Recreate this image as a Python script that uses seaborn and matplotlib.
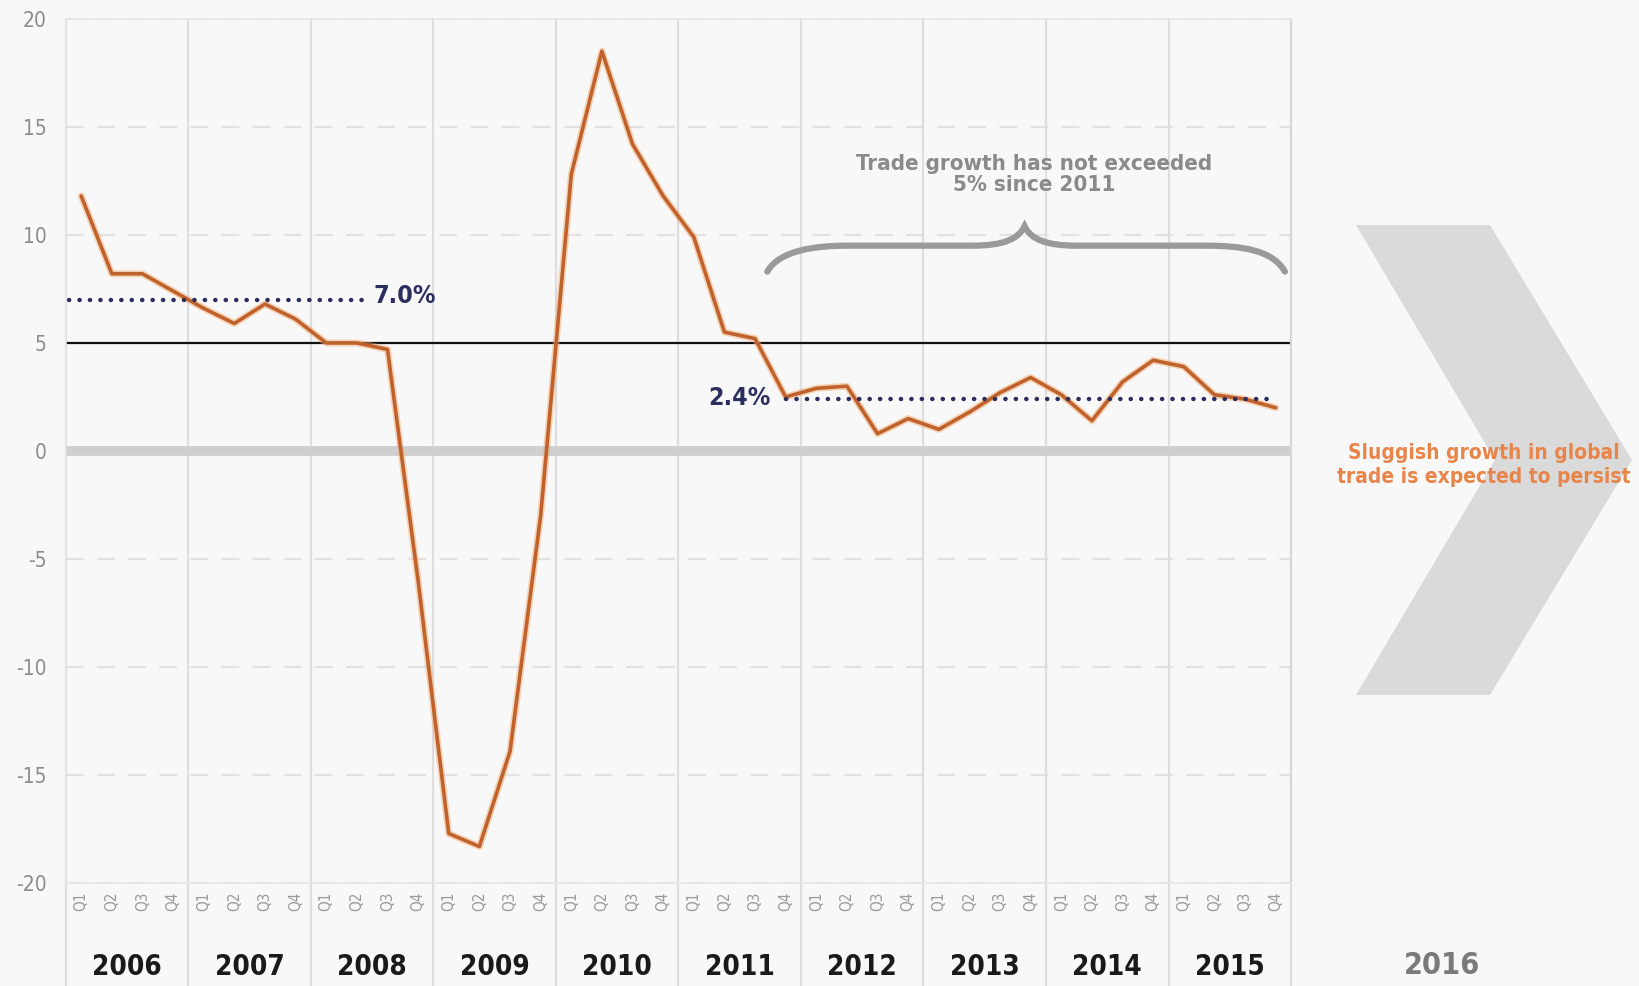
import numpy as np
import pandas as pd
import matplotlib
matplotlib.use("Agg")
import matplotlib.pyplot as plt
import seaborn as sns
from matplotlib.path import Path
from matplotlib.patches import PathPatch, Polygon
import matplotlib.transforms as mtransforms

# ---------------- data ----------------
years = ["2006", "2007", "2008", "2009", "2010", "2011", "2012", "2013", "2014", "2015"]
quarters = ["Q1", "Q2", "Q3", "Q4"]
growth = [
    11.8, 8.2, 8.2, 7.4,      # 2006
    6.6, 5.9, 6.8, 6.1,       # 2007
    5.0, 5.0, 4.7, -6.0,      # 2008
    -17.7, -18.3, -13.9, -3.0,  # 2009
    12.8, 18.5, 14.2, 11.8,   # 2010
    9.9, 5.5, 5.2, 2.5,       # 2011
    2.9, 3.0, 0.8, 1.5,       # 2012
    1.0, 1.8, 2.7, 3.4,       # 2013
    2.6, 1.4, 3.2, 4.2,       # 2014
    3.9, 2.6, 2.4, 2.0,       # 2015
]
avg_pre = 7.0
avg_post = 2.4
threshold = 5
avg_pre_label = "7.0%"
avg_post_label = "2.4%"
brace_text = "Trade growth has not exceeded\n5% since 2011"
outlook_text = "Sluggish growth in global\ntrade is expected to persist"
next_year = "2016"
yticks = [20, 15, 10, 5, 0, -5, -10, -15, -20]

# ---------------- style ----------------
sns.set_theme(style="white")
plt.rcParams["font.family"] = ["DejaVu Sans"]
plt.rcParams["font.stretch"] = "condensed"

BG = "#f8f8f8"
LINE = "#c0622c"
NAVY = "#2b2e5e"
GRAY_TXT = "#8a8a8a"
ORANGE = "#e8854a"

fig = plt.figure(figsize=(16.39, 9.86), dpi=100, facecolor=BG)
ax = fig.add_axes([0.0402, 0.1042, 0.7475, 0.8768])
ax.set_facecolor(BG)

n = len(growth)
df = pd.DataFrame({"x": np.arange(n) + 0.5, "growth": growth})

ax.set_xlim(0, n)
ax.set_ylim(-20, 20)

# horizontal dashed grid
for v in yticks:
    if v in (0, threshold):
        continue
    ax.axhline(v, color="#e2e2e2", lw=1.6, ls=(0, (8, 6)), zorder=0)

# year separators (extend below axis)
for k in range(len(years) + 1):
    ax.axvline(4 * k, ymin=-0.12, ymax=1, color="#dedede", lw=1.6,
               clip_on=False, zorder=0)

# zero band and 5% line
ax.axhline(0, color="#cfcfcf", lw=7, zorder=1)
ax.axhline(threshold, color="#111111", lw=1.6, zorder=2)

# main series
sns.lineplot(data=df, x="x", y="growth", ax=ax, color="#f2a66a", lw=5,
             alpha=0.45, zorder=3, legend=False)
sns.lineplot(data=df, x="x", y="growth", ax=ax, color=LINE, lw=2.6,
             zorder=4, legend=False)

# averages
dot_kw = dict(color=NAVY, lw=3.2, ls=(0, (0.05, 2.3)),
              dash_capstyle="round", zorder=5)
ax.plot([0.1, 9.75], [avg_pre, avg_pre], **dot_kw)
ax.plot([23.5, 39.5], [avg_post, avg_post], **dot_kw)
ax.text(10.05, avg_pre + 0.15, avg_pre_label, color=NAVY, fontsize=18,
        fontweight="bold", ha="left", va="center", zorder=6)
ax.text(23.0, avg_post + 0.05, avg_post_label, color=NAVY, fontsize=18,
        fontweight="bold", ha="right", va="center", zorder=6)

# brace
x0, x1, xp = 22.9, 39.8, 31.3
yl, yf, yp = 8.3, 9.5, 10.4
verts = [
    (x0, yl), (x0 + 0.4, 9.3), (x0 + 1.6, yf), (25.5, yf),
    (29.6, yf),
    (30.6, yf), (31.1, 9.8), (xp, yp),
    (31.5, 9.8), (32.0, yf), (33.0, yf),
    (37.2, yf),
    (38.4, yf), (39.4, 9.3), (x1, yl),
]
codes = [Path.MOVETO, Path.CURVE4, Path.CURVE4, Path.CURVE4,
         Path.LINETO,
         Path.CURVE4, Path.CURVE4, Path.CURVE4,
         Path.CURVE4, Path.CURVE4, Path.CURVE4,
         Path.LINETO,
         Path.CURVE4, Path.CURVE4, Path.CURVE4]
ax.add_patch(PathPatch(Path(verts, codes), facecolor="none",
                       edgecolor="#9a9a9a", lw=4.5, capstyle="round", zorder=5))
ax.text(31.6, 12.8, brace_text, color=GRAY_TXT, fontsize=16,
        fontweight="bold", ha="center", va="center", linespacing=1.1)

# ticks
ax.set_yticks(yticks)
ax.set_yticklabels([str(v) for v in yticks], color="#8c8c8c", fontsize=15)
ax.set_xticks(np.arange(n) + 0.5)
ax.set_xticklabels(quarters * len(years), rotation=90, color="#9a9a9a",
                   fontsize=11)
ax.tick_params(axis="y", length=0, pad=14)
ax.tick_params(axis="x", length=0, pad=6)
ax.set_xlabel("")
ax.set_ylabel("")

trans = mtransforms.blended_transform_factory(ax.transData, ax.transAxes)
for k, yr in enumerate(years):
    ax.text(4 * k + 2, -0.097, yr, transform=trans, ha="center", va="center",
            fontsize=20, fontweight="bold", color="#1a1a1a", clip_on=False)

for s in ["top", "left", "bottom"]:
    ax.spines[s].set_color("#e6e6e6")
    ax.spines[s].set_linewidth(1.2)
ax.spines["right"].set_color("#d8d8d8")
ax.spines["right"].set_linewidth(1.6)

# chevron (figure pixels -> fraction)
W, H = 1639.0, 986.0
chev_px = [(1356, 225), (1490, 225), (1632, 460), (1490, 695),
           (1356, 695), (1495, 460)]
chev = [(px / W, 1 - py / H) for px, py in chev_px]
fig.patches.append(Polygon(chev, closed=True, transform=fig.transFigure,
                           facecolor="#dadada", edgecolor="none", zorder=0))
fig.text(1484 / W, 1 - 465 / H, outlook_text, color=ORANGE, fontsize=15,
         fontweight="bold", ha="center", va="center", linespacing=1.2)
fig.text(1442 / W, 1 - 966 / H, next_year, color="#7a7a7a", fontsize=22,
         fontweight="bold", ha="center", va="center")

fig.savefig("out.png", dpi=100, facecolor=BG)
